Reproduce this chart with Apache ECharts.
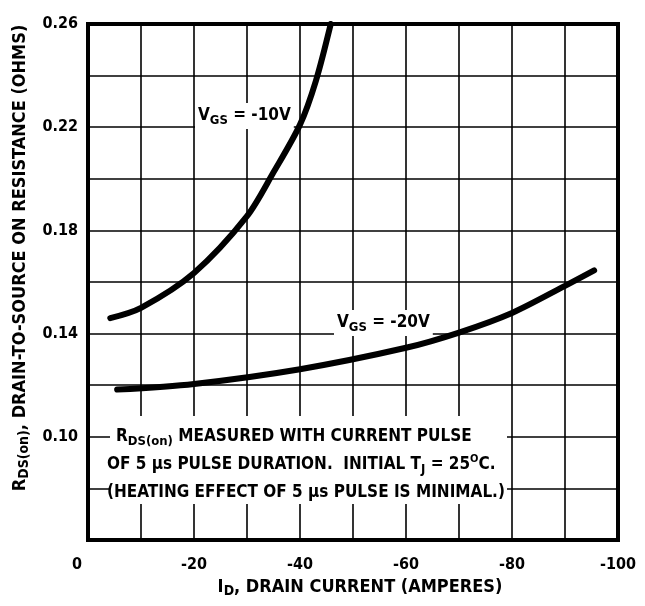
<!DOCTYPE html>
<html><head><meta charset="utf-8">
<script src="https://cdn.jsdelivr.net/npm/echarts@6/dist/echarts.min.js"></script>
<style>html,body{margin:0;padding:0;background:#fff}#c{width:645px;height:606px}</style>
</head><body><div id="c"></div>
<script>
// ---- data ----
const xTickLabels = [0, -20, -40, -60, -80, -100];
const yTickLabels = [0.10, 0.14, 0.18, 0.22, 0.26];
const vgs10Current    = [-4.2, -10, -20, -30, -35, -40, -43, -45.8];
const vgs10Resistance = [0.146, 0.150, 0.1635, 0.1855, 0.2025, 0.221, 0.238, 0.260];
const vgs20Current    = [-5.5, -20, -40, -60, -70, -80, -90, -95.5];
const vgs20Resistance = [0.1183, 0.1205, 0.1262, 0.1345, 0.1404, 0.1480, 0.1585, 0.1645];

const F = "'Liberation Sans Narrow','DejaVu Sans Condensed','Arial Narrow',sans-serif";
const pair = (xs, ys) => xs.map((x, i) => [x, ys[i]]);
const chart = echarts.init(document.getElementById('c'), null, {renderer: 'canvas'});

const subRich = (size) => ({
  m: {fontSize: size, fontWeight: 'bold', fontFamily: F, color: '#000', lineHeight: 22, verticalAlign: 'middle'},
  s: {fontSize: Math.round(size * 0.75), fontWeight: 'bold', fontFamily: F, color: '#000', lineHeight: 12, verticalAlign: 'bottom'},
  u: {fontSize: Math.round(size * 0.65), fontWeight: 'bold', fontFamily: F, color: '#000', lineHeight: 10, verticalAlign: 'top'},
  z: {fontSize: size, fontWeight: 'bold', fontFamily: F, color: '#000', padding: [0, 22, 0, 0]}
});

chart.setOption({
  animation: false,
  backgroundColor: '#fff',
  grid: {left: 88, top: 24, right: 27, bottom: 66, show: true, borderColor: '#000', borderWidth: 4, containLabel: false},
  xAxis: {
    type: 'value', min: -100, max: 0, interval: 10, inverse: true,
    axisLine: {show: true, lineStyle: {color: '#000', width: 4}},
    axisTick: {show: false},
    splitLine: {show: true, lineStyle: {color: '#000', width: 1.6}},
    axisLabel: {
      margin: 17, color: '#000', fontSize: 16, fontWeight: 'bold', fontFamily: F,
      formatter: v => {
        const r = Math.round(v);
        if (!xTickLabels.includes(r)) return '';
        return r === 0 ? '{z|0}' : String(r);
      },
      rich: subRich(16)
    },
    name: '{m|I}{s|D}{m|, DRAIN CURRENT (AMPERES)}',
    nameLocation: 'middle', nameGap: 36,
    nameTextStyle: {rich: subRich(18), padding: [0, 0, 0, 14]}
  },
  yAxis: {
    type: 'value', min: 0.06, max: 0.26, interval: 0.02,
    axisLine: {show: true, lineStyle: {color: '#000', width: 4}},
    axisTick: {show: false},
    splitLine: {show: true, lineStyle: {color: '#000', width: 1.6}},
    axisLabel: {
      margin: 10, color: '#000', fontSize: 16, fontWeight: 'bold', fontFamily: F,
      formatter: v => {
        const r = Math.round(v * 100) / 100;
        return yTickLabels.some(t => Math.abs(t - r) < 1e-6) ? r.toFixed(2) : '';
      }
    },
    name: '{m|R}{s|DS(on)}{m|, DRAIN-TO-SOURCE ON RESISTANCE (OHMS)}',
    nameLocation: 'middle', nameRotate: 90, nameGap: 52,
    nameTextStyle: {rich: subRich(18), padding: [0, 0, 0, 48]}
  },
  series: [
    {type: 'line', data: pair(vgs10Current, vgs10Resistance), smooth: 0.3, showSymbol: false,
     lineStyle: {color: '#000', width: 6, cap: 'round'}, z: 5},
    {type: 'line', data: pair(vgs20Current, vgs20Resistance), smooth: 0.3, showSymbol: false,
     lineStyle: {color: '#000', width: 6, cap: 'round'}, z: 5}
  ],
  graphic: [
    {type: 'text', left: 195, top: 103, z: 10,
     style: {text: '{m|V}{s|GS}{m| = -10V}', rich: subRich(17), backgroundColor: '#fff', padding: [2, 3, 2, 3]}},
    {type: 'text', left: 334, top: 310, z: 10,
     style: {text: '{m|V}{s|GS}{m| = -20V}', rich: subRich(17), backgroundColor: '#fff', padding: [2, 3, 2, 3]}},
    {type: 'rect', shape: {x: 110, y: 416, width: 397, height: 88}, style: {fill: '#fff'}, z: 9},
    {type: 'text', x: 116, y: 437, z: 10,
     style: {text: '{m|R}{s|DS(on)}{m| MEASURED WITH CURRENT PULSE}', rich: subRich(17), verticalAlign: 'middle'}},
    {type: 'text', x: 107, y: 465, z: 10,
     style: {text: '{m|OF 5 μs PULSE DURATION.  INITIAL T}{s|J}{m| = 25}{u|O}{m|C.}', rich: subRich(17), verticalAlign: 'middle'}},
    {type: 'text', x: 107, y: 493, z: 10,
     style: {text: '{m|(HEATING EFFECT OF 5 μs PULSE IS MINIMAL.)}', rich: subRich(17), verticalAlign: 'middle'}}
  ]
});
</script>
</body></html>
